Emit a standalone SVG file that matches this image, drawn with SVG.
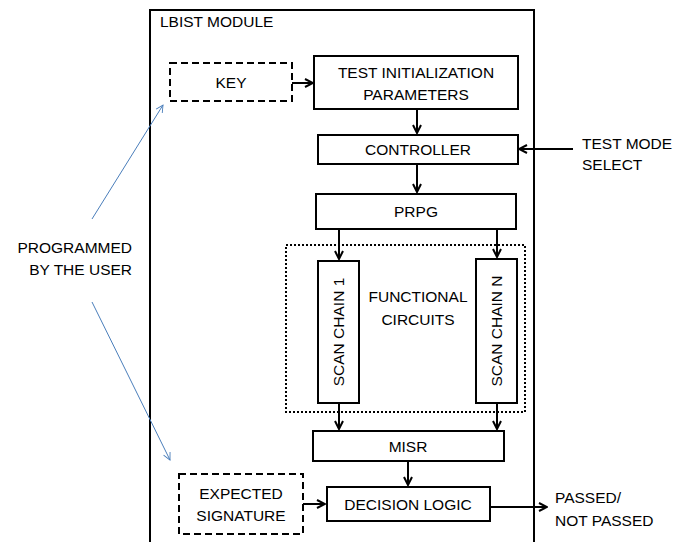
<svg xmlns="http://www.w3.org/2000/svg" width="681" height="542" viewBox="0 0 681 542">
<style>
text{font-family:"Liberation Sans",Arial,sans-serif;font-size:15.5px;fill:#000}
.box{fill:#fff;stroke:#000;stroke-width:2}
.dash{fill:#fff;stroke:#000;stroke-width:2;stroke-dasharray:7 4}
.dot{fill:none;stroke:#000;stroke-width:2;stroke-dasharray:2 2}
.c{stroke:#000;stroke-width:2;fill:none;marker-end:url(#ah)}
.b{stroke:#4a7ebb;stroke-width:1;fill:none;marker-end:url(#bh)}
</style>
<defs>
<marker id="ah" viewBox="0 0 10 10" refX="9" refY="5" markerWidth="5" markerHeight="5" orient="auto" markerUnits="strokeWidth">
<path d="M1,1 L9,5 L1,9" fill="none" stroke="#000" stroke-width="2"/>
</marker>
<marker id="bh" viewBox="0 0 10 10" refX="9" refY="5" markerWidth="9" markerHeight="9" orient="auto" markerUnits="strokeWidth">
<path d="M1,1 L9,5 L1,9" fill="none" stroke="#4a7ebb" stroke-width="1"/>
</marker>
</defs>
<rect width="681" height="542" fill="#fff"/>
<g id="lbist-module">
<path d="M150,545 V10 H534 V545" fill="none" stroke="#000" stroke-width="2"/>
<text x="160" y="27">LBIST MODULE</text>
</g>
<g id="functional-circuits">
<rect class="dot" x="286" y="245" width="239" height="167"/>
<text x="418" y="302" text-anchor="middle">FUNCTIONAL</text>
<text x="418" y="325" text-anchor="middle">CIRCUITS</text>
</g>
<g id="key">
<rect class="dash" x="170" y="63" width="122" height="38"/>
<text x="231" y="88" text-anchor="middle">KEY</text>
</g>
<g id="test-init">
<rect class="box" x="314" y="56" width="204" height="53"/>
<text x="416" y="78" text-anchor="middle">TEST INITIALIZATION</text>
<text x="416" y="100" text-anchor="middle">PARAMETERS</text>
</g>
<g id="controller">
<rect class="box" x="318" y="135" width="200" height="29"/>
<text x="418" y="155" text-anchor="middle">CONTROLLER</text>
</g>
<g id="prpg">
<rect class="box" x="316" y="194" width="200" height="35"/>
<text x="416" y="217" text-anchor="middle">PRPG</text>
</g>
<g id="scan-chain-1">
<rect class="box" x="318" y="261" width="41" height="142"/>
<text transform="translate(344,332) rotate(-90)" text-anchor="middle">SCAN CHAIN 1</text>
</g>
<g id="scan-chain-n">
<rect class="box" x="476" y="259" width="41" height="144"/>
<text transform="translate(502,331) rotate(-90)" text-anchor="middle">SCAN CHAIN N</text>
</g>
<g id="misr">
<rect class="box" x="313" y="431" width="191" height="30"/>
<text x="408" y="452" text-anchor="middle">MISR</text>
</g>
<g id="expected-signature">
<rect class="dash" x="179" y="474" width="124" height="60"/>
<text x="241" y="499" text-anchor="middle">EXPECTED</text>
<text x="241" y="521" text-anchor="middle">SIGNATURE</text>
</g>
<g id="decision-logic">
<rect class="box" x="327" y="487" width="163" height="34"/>
<text x="408" y="510" text-anchor="middle">DECISION LOGIC</text>
</g>
<g id="test-mode-select">
<text x="582" y="149">TEST MODE</text>
<text x="582" y="170">SELECT</text>
</g>
<g id="passed">
<text x="555" y="503">PASSED/</text>
<text x="555" y="526">NOT PASSED</text>
</g>
<g id="programmed">
<text x="132" y="253" text-anchor="end">PROGRAMMED</text>
<text x="132" y="275" text-anchor="end">BY THE USER</text>
</g>
<g id="connectors">
<path class="c" d="M292,83 H313"/>
<path class="c" d="M417,109 V133"/>
<path class="c" d="M573,149 H519"/>
<path class="c" d="M417,164 V192"/>
<path class="c" d="M339,229 V259"/>
<path class="c" d="M497,229 V257"/>
<path class="c" d="M339,403 V429"/>
<path class="c" d="M497,403 V429"/>
<path class="c" d="M408,461 V485"/>
<path class="c" d="M303,504 H325"/>
<path class="c" d="M490,507 H547"/>
<path class="b" d="M92,219 L163,105"/>
<path class="b" d="M92,302 L170,460"/>
</g>
</svg>
